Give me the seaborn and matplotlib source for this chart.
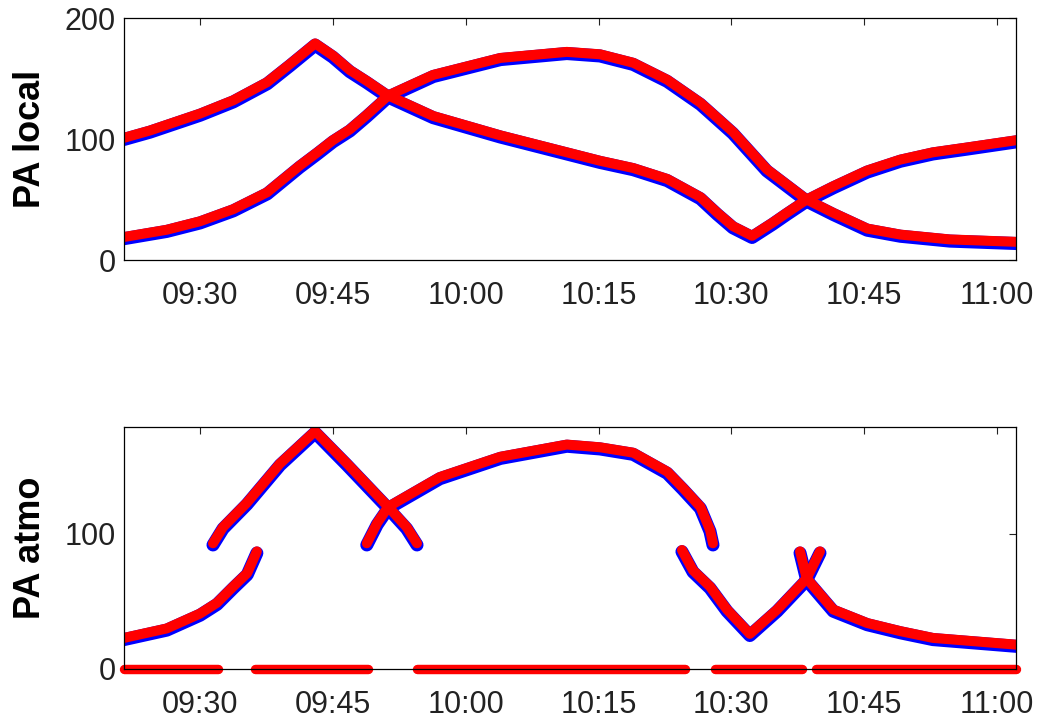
import matplotlib
matplotlib.use("Agg")
import matplotlib.pyplot as plt
import matplotlib.dates as mdates
import matplotlib.transforms as mtransforms
import pandas as pd
import seaborn as sns

DAY = "2014-06-01 "

# PA local, two tracks
local_a_time = ["09:21:25", "09:24:20", "09:30:00", "09:33:45", "09:37:35", "09:40:10",
                "09:43:00", "09:45:00", "09:46:55", "09:48:50", "09:51:15", "09:56:20",
                "10:03:55", "10:11:25", "10:15:10", "10:18:55", "10:22:45", "10:26:30",
                "10:28:25", "10:30:10", "10:32:20", "10:34:40", "10:36:15", "10:38:30",
                "10:41:30", "10:45:20", "10:49:05", "10:52:45", "10:56:35", "11:02:10"]
local_a_val = [101, 107, 121, 132, 147, 162, 179, 169, 157, 148, 136, 119, 103, 89, 82,
               76, 67, 52, 39, 28, 20, 31, 39, 50, 61, 74, 83, 89, 93, 99]

local_b_time = ["09:21:25", "09:26:15", "09:30:00", "09:33:45", "09:37:35", "09:41:15",
                "09:43:15", "09:45:00", "09:46:55", "09:48:50", "09:51:15", "09:56:20",
                "10:03:55", "10:11:25", "10:15:10", "10:18:55", "10:22:45", "10:26:30",
                "10:30:10", "10:34:00", "10:38:30", "10:41:30", "10:45:20", "10:49:05",
                "10:54:40", "11:02:10"]
local_b_val = [19, 25, 32, 42, 56, 78, 89, 99, 108, 120, 136, 153, 167, 172, 170, 163,
               149, 130, 106, 75, 50, 39, 26, 21, 17, 15]

# PA atmo, broken pieces
atmo_a_time = ["09:21:25", "09:26:15", "09:30:00", "09:31:55", "09:33:45", "09:35:20", "09:36:25"]
atmo_a_val = [23, 30, 41, 49, 61, 71, 87]

atmo_b_time = ["09:31:28", "09:32:36", "09:35:18", "09:39:02", "09:43:00", "09:46:36",
               "09:51:15", "09:53:20", "09:54:30"]
atmo_b_val = [93, 105, 123, 152, 176, 152, 120, 105, 93]

atmo_c_time = ["09:48:50", "09:50:00", "09:51:15", "09:57:05", "10:03:55", "10:11:25",
               "10:15:10", "10:18:55", "10:22:45", "10:24:32", "10:26:30", "10:27:35", "10:27:55"]
atmo_c_val = [93, 108, 120, 142, 157, 166, 164, 160, 146, 134, 120, 103, 93]

atmo_d_time = ["10:24:25", "10:25:40", "10:27:35", "10:29:30", "10:32:05", "10:35:10",
               "10:38:30", "10:40:00"]
atmo_d_val = [88, 73, 61, 44, 26, 44, 67, 87]

atmo_e_time = ["10:37:45", "10:38:30", "10:41:30", "10:45:20", "10:49:05", "10:52:45", "11:02:10"]
atmo_e_val = [87, 67, 44, 34, 28, 23, 18]

# stretches where PA atmo is 0
zero_start = ["09:21:25", "09:36:15", "09:54:30", "10:28:10", "10:39:35"]
zero_end = ["09:32:00", "09:49:00", "10:24:45", "10:38:00", "11:02:10"]

tick_times = ["09:30", "09:45", "10:00", "10:15", "10:30", "10:45", "11:00"]
x_from, x_to = "09:21:25", "11:02:08"


def ts(t):
    return pd.Timestamp(DAY + t)


def make_frame(pieces):
    rows = []
    for name, times, vals in pieces:
        for t, v in zip(times, vals):
            rows.append((name, ts(t), v))
    return pd.DataFrame(rows, columns=["seg", "time", "pa"])


local_df = make_frame([("a", local_a_time, local_a_val), ("b", local_b_time, local_b_val)])
atmo_df = make_frame([("a", atmo_a_time, atmo_a_val), ("b", atmo_b_time, atmo_b_val),
                      ("c", atmo_c_time, atmo_c_val), ("d", atmo_d_time, atmo_d_val),
                      ("e", atmo_e_time, atmo_e_val)])
zero_df = make_frame([(f"z{i}", [s, e], [0, 0]) for i, (s, e) in enumerate(zip(zero_start, zero_end))])

sns.set_theme(style="white")
plt.rcParams["font.family"] = ["Liberation Sans", "DejaVu Sans"]

fig = plt.figure(figsize=(10.39, 7.23), dpi=100)
ax1 = fig.add_axes([124 / 1039, 463 / 723, 892 / 1039, 242 / 723])
ax2 = fig.add_axes([124 / 1039, 54 / 723, 892 / 1039, 242 / 723])

shift = mtransforms.ScaledTranslation(0, -1.2 / 72, fig.dpi_scale_trans)


def draw_tracks(ax, df):
    sns.lineplot(data=df, x="time", y="pa", units="seg", estimator=None, sort=False,
                 color="blue", lw=9.4, solid_capstyle="round", ax=ax)
    for ln in ax.lines:
        ln.set_transform(ln.get_transform() + shift)
    sns.lineplot(data=df, x="time", y="pa", units="seg", estimator=None, sort=False,
                 color="red", lw=7.2, solid_capstyle="round", ax=ax)


draw_tracks(ax1, local_df)
draw_tracks(ax2, atmo_df)
sns.lineplot(data=zero_df, x="time", y="pa", units="seg", estimator=None, sort=False,
             color="red", lw=6.8, solid_capstyle="round", clip_on=False, ax=ax2)

for ax, label, top, yt in [(ax1, "PA local", 200, [0, 100, 200]), (ax2, "PA atmo", 179, [0, 100])]:
    ax.set_xlim(ts(x_from), ts(x_to))
    ax.set_ylim(0, top)
    ax.set_yticks(yt)
    ax.set_xticks([mdates.date2num(ts(t)) for t in tick_times])
    ax.xaxis.set_major_formatter(mdates.DateFormatter("%H:%M"))
    ax.tick_params(direction="in", length=5, width=0.8, top=True, right=True,
                   labelsize=22, colors="#222222")
    ax.tick_params(axis="x", pad=15)
    ax.tick_params(axis="y", pad=6)
    for sp in ax.spines.values():
        sp.set_visible(True)
        sp.set_color("black")
        sp.set_linewidth(0.9)
        sp.set_zorder(3)
    ax.set_xlabel("")
    ax.set_ylabel(label, fontsize=26, fontweight="bold", color="black")
    ax.yaxis.set_label_coords(-0.085, 0.5)

fig.savefig("out.png", dpi=100)
